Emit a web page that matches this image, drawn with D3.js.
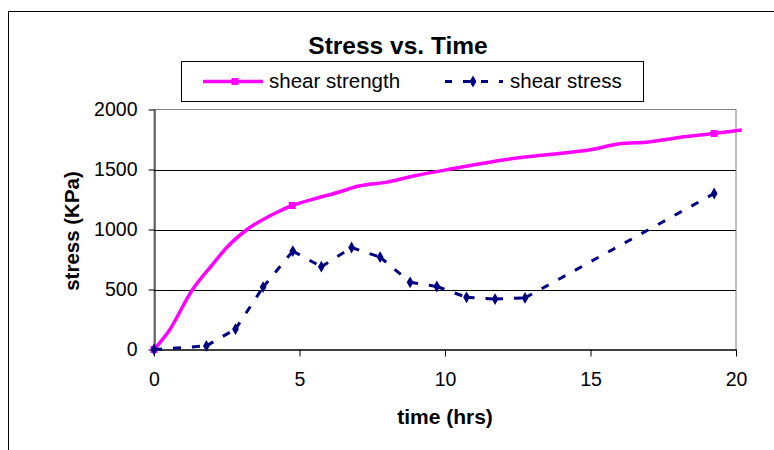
<!DOCTYPE html>
<html>
<head>
<meta charset="utf-8">
<script src="https://cdn.jsdelivr.net/npm/d3@7"></script>
<style>
  body { margin: 0; background: #fff; }
  text { font-family: Arial, "Liberation Sans", sans-serif; }
</style>
</head>
<body>
<script>
// Data
var strengthTime   = [0, 0.5, 1.3, 2, 2.5, 3.2, 4.2, 4.75, 5.5, 6.4, 7, 8, 9, 10, 11, 12, 13, 14, 15, 16, 17, 18, 19.25, 20.2];
var strengthValues = [0, 150, 490, 705, 850, 1000, 1140, 1200, 1255, 1315, 1360, 1395, 1450, 1495, 1540, 1580, 1610, 1635, 1665, 1715, 1730, 1765, 1800, 1830];
var strengthMarkTime   = [0, 4.75, 19.25];
var strengthMarkValues = [0, 1200, 1800];

var stressTime   = [0, 1.8, 2.8, 3.75, 4.77, 5.75, 6.79, 7.77, 8.8, 9.72, 10.74, 11.72, 12.75, 19.25];
var stressValues = [0, 30, 170, 520, 820, 690, 850, 770, 560, 525, 435, 420, 430, 1300];

var xTicks = [0, 5, 10, 15, 20];
var yTicks = [0, 500, 1000, 1500, 2000];
var gridTicks = [500, 1000, 1500];

var WIDTH  = 774;
var HEIGHT = 450;
var PINK = '#ff00ff';
var NAVY = '#000080';

var svg = d3.select('body')
            .append('svg')
            .attr('width', WIDTH)
            .attr('height', HEIGHT);

// outer chart frame (only top and left edges show)
svg.append('rect')
   .attr('x', 8.5).attr('y', 11.5)
   .attr('width', 800).attr('height', 500)
   .attr('fill', 'none')
   .attr('stroke', '#000');

var x = d3.scaleLinear().domain([0, 20]).range([154, 736]);
var y = d3.scaleLinear().domain([0, 2000]).range([349.5, 109.5]);

// plot area border
svg.append('rect')
   .attr('x', x(0)).attr('y', y(2000))
   .attr('width', x(20) - x(0)).attr('height', y(0) - y(2000))
   .attr('fill', 'none')
   .attr('stroke', '#808080');

// gridlines
svg.selectAll('line.grid')
   .data(gridTicks)
   .enter()
 .append('line')
   .attr('class', 'grid')
   .attr('x1', x(0)).attr('x2', x(20))
   .attr('y1', function(d) { return Math.round(y(d)) + 0.5; })
   .attr('y2', function(d) { return Math.round(y(d)) + 0.5; })
   .attr('stroke', '#000');

// axes
var yAxis = svg.append('g')
   .attr('transform', 'translate(' + (x(0) + 0.5) + ',0)')
   .call(d3.axisLeft(y).tickValues(yTicks).tickFormat(d3.format('d'))
           .tickSize(6).tickSizeOuter(0).tickPadding(11));
yAxis.selectAll('text').attr('font-size', 19.5).attr('fill', '#000');
yAxis.selectAll('line, path').attr('stroke', '#000');

var xAxis = svg.append('g')
   .attr('transform', 'translate(0,' + y(0) + ')')
   .call(d3.axisBottom(x).tickValues(xTicks).tickSize(7).tickSizeOuter(0).tickPadding(16));
xAxis.selectAll('text').attr('font-size', 19.5).attr('fill', '#000');
xAxis.selectAll('line').attr('stroke', '#000');
xAxis.select('path').attr('stroke', '#404040').attr('stroke-width', 2);

// axis titles
svg.append('text')
   .attr('x', 445).attr('y', 424)
   .attr('text-anchor', 'middle')
   .attr('font-size', 21).attr('font-weight', 'bold')
   .text('time (hrs)');

svg.append('text')
   .attr('transform', 'translate(79,231) rotate(-90)')
   .attr('text-anchor', 'middle')
   .attr('font-size', 20.5).attr('font-weight', 'bold')
   .text('stress (KPa)');

// title
svg.append('text')
   .attr('x', 398).attr('y', 54)
   .attr('text-anchor', 'middle')
   .attr('font-size', 24.5).attr('font-weight', 'bold')
   .text('Stress vs. Time');

// shear strength line
var strength = strengthTime.map(function(t, i) { return [t, strengthValues[i]]; });
var line = d3.line()
             .x(function(d) { return x(d[0]); })
             .y(function(d) { return y(d[1]); });

svg.append('path')
   .datum(strength)
   .attr('d', line.curve(d3.curveMonotoneX))
   .attr('fill', 'none')
   .attr('stroke', PINK)
   .attr('stroke-width', 3.5)
   .attr('stroke-linejoin', 'round');
line.curve(d3.curveLinear);

svg.selectAll('rect.sq')
   .data(strengthMarkTime)
   .enter()
 .append('rect')
   .attr('class', 'sq')
   .attr('x', function(d) { return x(d) - 3.5; })
   .attr('y', function(d, i) { return y(strengthMarkValues[i]) - 3.5; })
   .attr('width', 7).attr('height', 7)
   .attr('fill', PINK);

// shear stress: each segment dashed on its own, the way the picture restarts the dash
var stress = stressTime.map(function(t, i) { return [t, stressValues[i]]; });
svg.selectAll('path.seg')
   .data(d3.pairs(stress))
   .enter()
 .append('path')
   .attr('class', 'seg')
   .attr('d', line)
   .attr('fill', 'none')
   .attr('stroke', NAVY)
   .attr('stroke-width', 3)
   .attr('stroke-dasharray', '8,11');

var diamond = d3.symbol().type(d3.symbolDiamond).size(40);
svg.selectAll('path.dia')
   .data(stress)
   .enter()
 .append('path')
   .attr('class', 'dia')
   .attr('d', diamond)
   .attr('transform', function(d) { return 'translate(' + x(d[0]) + ',' + y(d[1]) + ')'; })
   .attr('fill', NAVY);

// legend
var legend = svg.append('g');
legend.append('rect')
   .attr('x', 181.5).attr('y', 61.5)
   .attr('width', 462).attr('height', 40)
   .attr('fill', '#fff')
   .attr('stroke', '#000');

legend.append('line')
   .attr('x1', 203).attr('x2', 263).attr('y1', 81.5).attr('y2', 81.5)
   .attr('stroke', PINK).attr('stroke-width', 3.5);
legend.append('rect')
   .attr('x', 231.5).attr('y', 78).attr('width', 7).attr('height', 7)
   .attr('fill', PINK);
legend.append('text')
   .attr('x', 269).attr('y', 88)
   .attr('font-size', 20.5)
   .text('shear strength');

legend.append('line')
   .attr('x1', 445).attr('x2', 503).attr('y1', 81.5).attr('y2', 81.5)
   .attr('stroke', NAVY).attr('stroke-width', 3)
   .attr('stroke-dasharray', '7,11');
legend.append('path')
   .attr('d', diamond)
   .attr('transform', 'translate(473,81.5)')
   .attr('fill', NAVY);
legend.append('text')
   .attr('x', 510).attr('y', 88)
   .attr('font-size', 20.5)
   .text('shear stress');
</script>
</body>
</html>
